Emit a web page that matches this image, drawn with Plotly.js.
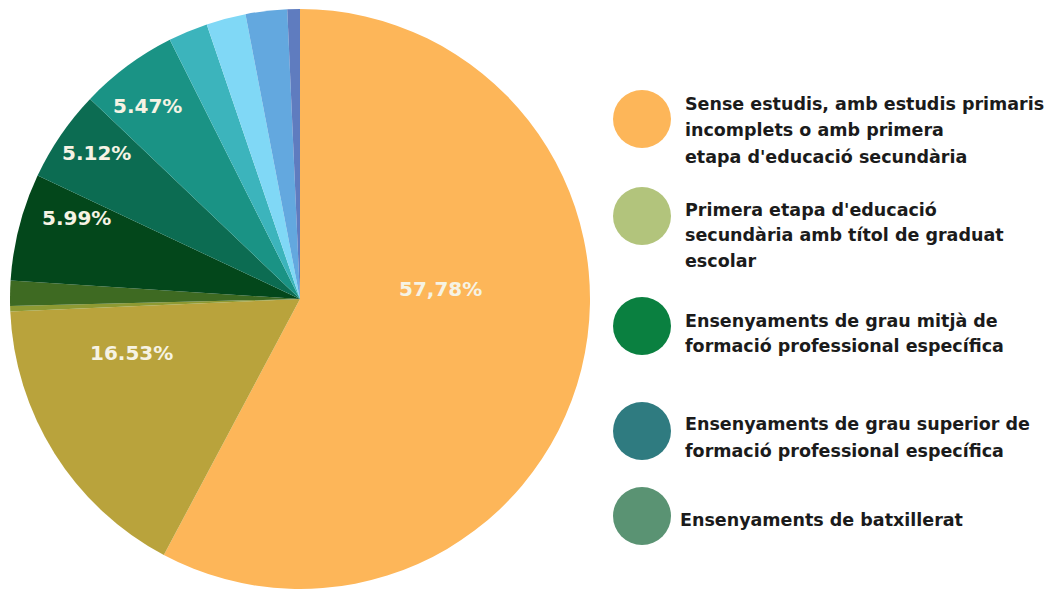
<!DOCTYPE html>
<html>
<head>
<meta charset="utf-8">
<script src="https://cdn.plot.ly/plotly-3.0.1.min.js"></script>
<style>
html,body{margin:0;padding:0;overflow:hidden;background:#fff;}
#chart{width:1051px;height:590px;}
</style>
</head>
<body>
<div id="chart"></div>
<script>
// Slice data (clockwise from 12 o'clock)
const sliceNames = [
  "Sense estudis, amb estudis primaris incomplets o amb primera etapa d'educació secundària",
  "Primera etapa d'educació secundària amb títol de graduat escolar",
  "Categoria 3",
  "Categoria 4",
  "Ensenyaments de grau mitjà de formació professional específica",
  "Ensenyaments de grau superior de formació professional específica",
  "Ensenyaments de batxillerat",
  "Categoria 8",
  "Categoria 9",
  "Categoria 10",
  "Categoria 11"
];
const sliceValues = [57.78, 16.53, 0.3, 1.4, 5.99, 5.12, 5.47, 2.2, 2.2, 2.31, 0.7];
const sliceColors = ["#FDB659", "#B9A33C", "#8E9A33", "#3E6A22", "#03471B", "#0C6C52", "#1A9385", "#3CB4BC", "#80D8F6", "#63A8DF", "#5F7CBF"];
const sliceLabels = ["57,78%", "16.53%", "", "", "5.99%", "5.12%", "5.47%", "", "", "", ""];

// Custom legend (as in the original graphic)
const legendLines = [
  ["Sense estudis, amb estudis primaris", "incomplets o amb primera", "etapa d'educació secundària"],
  ["Primera etapa d'educació", "secundària amb títol de graduat", "escolar"],
  ["Ensenyaments de grau mitjà de", "formació professional específica"],
  ["Ensenyaments de grau superior de", "formació professional específica"],
  ["Ensenyaments de batxillerat"]
];
const legendColors = ["#FDB659", "#B2C47C", "#0A8040", "#2F7B80", "#5A9373"];

const W = 1051, H = 590;
const px = x => x / W;
const py = y => 1 - y / H;

const trace = {
  type: 'pie',
  labels: sliceNames,
  values: sliceValues,
  sort: false,
  direction: 'clockwise',
  rotation: 0,
  marker: {colors: sliceColors, line: {width: 0}},
  textinfo: 'none',
  hoverinfo: 'label+percent',
  showlegend: false,
  domain: {x: [px(10), px(590)], y: [py(589), py(9)]}
};

const annotations = [];
// pie labels
const labelPos = [[440, 289], [131, 353], null, null, [76, 218], [96, 153], [147, 106], null, null, null, null];
sliceLabels.forEach((t, i) => {
  if (!t) return;
  annotations.push({
    xref: 'paper', yref: 'paper', x: px(labelPos[i][0]), y: py(labelPos[i][1]),
    text: t, showarrow: false, xanchor: 'center', yanchor: 'middle',
    font: {family: 'DejaVu Sans', size: 20, color: '#F6F3E4', weight: 'bold'}
  });
});

// legend
const circleY = [119, 216, 326, 431, 516];
const lineYs = [[104, 130, 157], [210, 235, 261], [321, 346], [424, 451], [520]];
const textX = [683, 683, 683, 683, 678];
const shapes = [];
legendLines.forEach((lines, i) => {
  shapes.push({
    type: 'circle', xref: 'paper', yref: 'paper',
    x0: px(613), x1: px(671), y0: py(circleY[i] + 29), y1: py(circleY[i] - 29),
    fillcolor: legendColors[i], line: {width: 0}
  });
  lines.forEach((ln, j) => {
    annotations.push({
      xref: 'paper', yref: 'paper', x: px(textX[i]), y: py(lineYs[i][j]),
      text: ln, showarrow: false, xanchor: 'left', yanchor: 'middle', align: 'left',
      font: {family: 'DejaVu Sans', size: 17.5, color: '#1b1b1b', weight: 'bold'}
    });
  });
});

const layout = {
  width: W, height: H,
  margin: {l: 0, r: 0, t: 0, b: 0},
  paper_bgcolor: '#ffffff',
  showlegend: false,
  annotations: annotations,
  shapes: shapes
};

Plotly.newPlot('chart', [trace], layout, {displayModeBar: false, staticPlot: true});
</script>
</body>
</html>
